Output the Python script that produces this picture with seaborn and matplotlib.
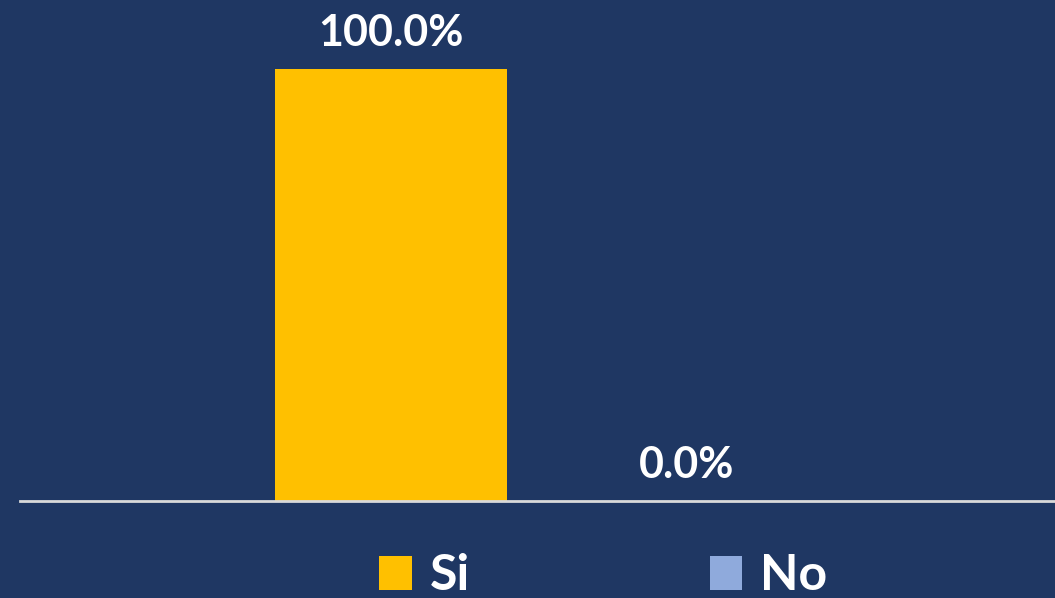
import pandas as pd
import numpy as np
import matplotlib.pyplot as plt
import seaborn as sns
from matplotlib.patches import Patch

# ---------- data ----------
series = ["Si", "No"]
values = [100.0, 0.0]
labels = ["100.0%", "0.0%"]
colors = ["#FFC000", "#8FAADC"]

df = pd.DataFrame({"serie": series, "valor": values})

bg = "#1F3763"

sns.set_style("white")
plt.rcParams["font.family"] = ["Lato", "DejaVu Sans"]

fig = plt.figure(figsize=(10.55, 5.98), dpi=100)
fig.patch.set_facecolor(bg)
ax = fig.add_axes([20 / 1055, (598 - 501) / 598, 1035 / 1055, 501 / 598])
ax.set_facecolor(bg)

sns.barplot(data=df, x="serie", y="valor", hue="serie", palette=colors,
            width=0.784, legend=False, ax=ax, saturation=1,
            edgecolor="none", linewidth=0)

ax.set_xlim(-1.253, 2.243)
ax.set_ylim(0, 116)

for i, (v, lab) in enumerate(zip(values, labels)):
    ax.text(i, v + 5.3, lab, ha="center", va="baseline", color="white",
            fontsize=31, fontweight="bold")

for s in ["top", "right", "left"]:
    ax.spines[s].set_visible(False)
ax.spines["bottom"].set_color("#D9D9D9")
ax.spines["bottom"].set_linewidth(2)
ax.set_xticks([])
ax.set_yticks([])
ax.set_xlabel("")
ax.set_ylabel("")

handles = [Patch(facecolor=c, edgecolor="none") for c in colors]
fig.legend(handles, series, loc="center", bbox_to_anchor=(603 / 1055, 1 - 576 / 598),
           ncol=2, frameon=False, labelcolor="white",
           prop={"weight": "bold", "size": 36}, handlelength=0.65, handleheight=0.65,
           handletextpad=0.35, columnspacing=4.8)

fig.savefig("out.png", dpi=100, facecolor=bg)
